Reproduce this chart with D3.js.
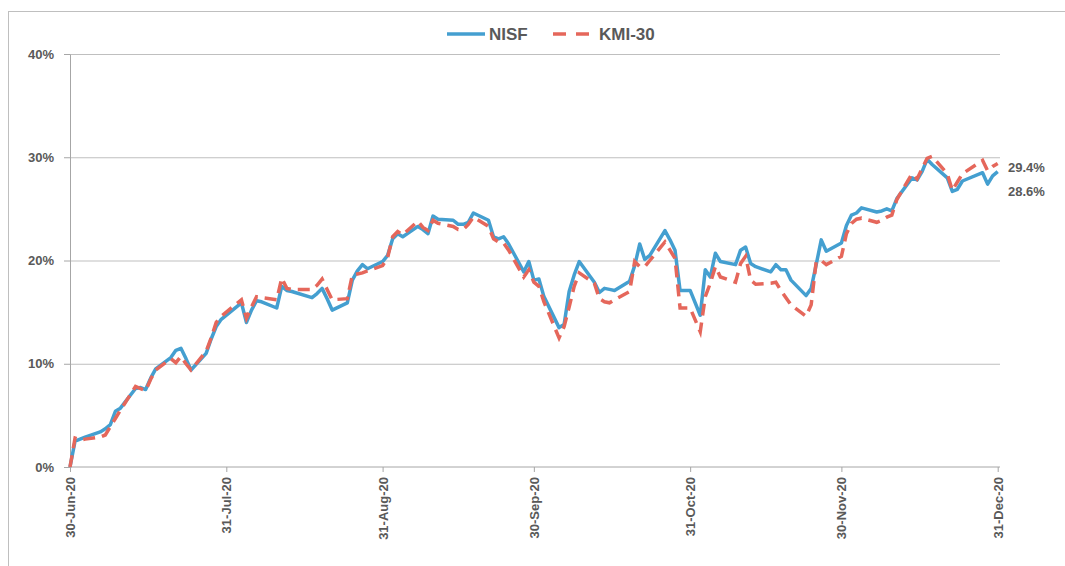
<!DOCTYPE html>
<html>
  <head>
    <meta charset="utf-8">
    <title>NISF vs KMI-30</title>
  </head>
  <style>
    body{
      margin: 0;
      background-color: #fff;
      font-family: "Liberation Sans", Arial, sans-serif;
    }
    .grid .tick line{
      stroke: #bfbfbf
    }
    .grid .domain{
      display: none
    }
    .axis text{
      fill: #595959;
      font-weight: bold;
      font-size: 13px;
      font-family: "Liberation Sans", Arial, sans-serif;
    }
    .axis line, .axis path{
      stroke: #a6a6a6
    }
  </style>
  <script src="https://cdn.jsdelivr.net/npm/d3@7"></script>
  <body>
    <script>
    // cumulative return since 30-Jun-20, in %
    const dates = [
      "2020-06-30","2020-07-01","2020-07-02","2020-07-03","2020-07-06","2020-07-07","2020-07-08","2020-07-09","2020-07-10",
      "2020-07-13","2020-07-14","2020-07-15","2020-07-16","2020-07-17","2020-07-20","2020-07-21","2020-07-22","2020-07-23","2020-07-24",
      "2020-07-27","2020-07-28","2020-07-29","2020-07-30","2020-08-03","2020-08-04","2020-08-05","2020-08-06","2020-08-07",
      "2020-08-10","2020-08-11","2020-08-12","2020-08-13","2020-08-17","2020-08-18","2020-08-19","2020-08-20","2020-08-21",
      "2020-08-24","2020-08-25","2020-08-26","2020-08-27","2020-08-28","2020-08-31","2020-09-01","2020-09-02","2020-09-03","2020-09-04",
      "2020-09-07","2020-09-08","2020-09-09","2020-09-10","2020-09-11","2020-09-14","2020-09-15","2020-09-16","2020-09-17","2020-09-18",
      "2020-09-21","2020-09-22","2020-09-23","2020-09-24","2020-09-25","2020-09-28","2020-09-29","2020-09-30","2020-10-01","2020-10-02",
      "2020-10-05","2020-10-06","2020-10-07","2020-10-08","2020-10-09","2020-10-12","2020-10-13","2020-10-14","2020-10-15","2020-10-16",
      "2020-10-19","2020-10-20","2020-10-21","2020-10-22","2020-10-23","2020-10-26","2020-10-27","2020-10-28","2020-10-29","2020-10-31",
      "2020-11-02","2020-11-03","2020-11-04","2020-11-05","2020-11-06","2020-11-09","2020-11-10","2020-11-11","2020-11-12","2020-11-13",
      "2020-11-16","2020-11-17","2020-11-18","2020-11-19","2020-11-20","2020-11-23","2020-11-24","2020-11-25","2020-11-26","2020-11-27",
      "2020-11-30","2020-12-01","2020-12-02","2020-12-03","2020-12-04","2020-12-07","2020-12-08","2020-12-09","2020-12-10","2020-12-11",
      "2020-12-14","2020-12-15","2020-12-16","2020-12-17","2020-12-18","2020-12-21","2020-12-22","2020-12-23","2020-12-24",
      "2020-12-28","2020-12-29","2020-12-30","2020-12-31"
    ]

    const nisf = [
      0.0, 2.5, 2.7, 2.9, 3.4, 3.7, 4.1, 5.4, 5.7,
      7.6, 7.7, 7.5, 8.6, 9.5, 10.6, 11.3, 11.5, 10.5, 9.4,
      11.0, 12.4, 13.6, 14.3, 15.9, 14.0, 15.2, 16.1, 16.0,
      15.4, 17.5, 17.1, 17.0, 16.4, 16.8, 17.3, 16.3, 15.2,
      15.9, 18.1, 19.0, 19.6, 19.2, 19.9, 20.5, 22.1, 22.6, 22.3,
      23.3, 23.0, 22.6, 24.3, 24.0, 23.9, 23.5, 23.5, 23.7, 24.6,
      23.9, 22.3, 22.1, 22.3, 21.6, 18.9, 19.9, 18.1, 18.2, 16.5,
      13.5, 13.8, 17.0, 18.6, 19.9, 17.9, 16.9, 17.3, 17.2, 17.1,
      18.0, 19.5, 21.6, 20.1, 20.5, 22.9, 22.0, 21.0, 17.1, 17.1,
      14.7, 19.1, 18.4, 20.7, 19.9, 19.6, 21.0, 21.3, 19.7, 19.4,
      18.9, 19.6, 19.1, 19.1, 18.1, 16.6, 17.3, 19.6, 22.0, 20.9,
      21.7, 23.4, 24.4, 24.6, 25.1, 24.7, 24.8, 25.0, 24.8, 26.0,
      28.0, 27.8, 28.6, 29.8, 29.3, 28.0, 26.7, 26.9, 27.7,
      28.5, 27.4, 28.2, 28.6
    ]

    const kmi30 = [
      0.0, 2.8, 2.6, 2.7, 2.9, 3.1, 3.9, 4.7, 5.5,
      7.8, 7.6, 7.4, 8.5, 9.4, 10.5, 10.1, 10.7, 10.0, 9.4,
      11.2, 12.5, 14.0, 14.6, 16.2, 14.4, 15.5, 16.5, 16.4,
      16.2, 18.3, 17.3, 17.2, 17.2, 17.6, 18.2, 17.2, 16.2,
      16.3, 18.6, 18.7, 18.8, 19.0, 19.5, 20.3, 22.3, 22.8, 22.5,
      23.8, 23.2, 22.9, 23.9, 23.6, 23.3, 23.0, 23.0, 23.5, 24.2,
      23.3, 22.1, 21.8, 21.7, 21.0, 18.4, 19.1, 17.9, 17.5, 16.0,
      12.5, 13.6, 15.5, 17.5, 18.8, 17.8, 16.3, 16.0, 15.9, 16.2,
      17.0, 19.9, 19.4, 19.4, 20.0, 21.8, 21.0, 20.2, 15.4, 15.4,
      13.1, 16.5, 17.8, 19.4, 18.4, 17.9, 19.7, 20.4, 18.1, 17.7,
      17.8, 17.9, 17.1, 16.4, 15.7, 14.6, 15.7, 19.9, 20.0, 19.6,
      20.4, 22.6, 23.6, 24.0, 24.1, 23.7, 23.9, 24.2, 24.4, 25.9,
      28.4, 27.9, 28.9, 29.9, 30.1, 28.4, 26.8, 27.6, 28.4,
      29.7, 28.7, 29.1, 29.4
    ]

    const yTicks = [0, 10, 20, 30, 40]
    const xTicks = ["2020-06-30","2020-07-31","2020-08-31","2020-09-30","2020-10-31","2020-11-30","2020-12-31"]
    const seriesNames = ["NISF", "KMI-30"]
    const colors = ["#449fd0", "#e5675b"]

    var width = 1065
    var height = 566
    var plot = { left: 70, right: 997.7, top: 54, bottom: 467 }

    var parse = d3.timeParse("%Y-%m-%d")
    var fmt = d3.timeFormat("%-d-%b-%y")

    var svg = d3.select("body")
                .append("svg")
                .attr("width", width)
                .attr("height", height)

    // outer chart frame
    svg.append("rect")
       .attr("x", 8.5).attr("y", 11.5)
       .attr("width", 1100).attr("height", 600)
       .attr("fill", "none")
       .attr("stroke", "#bfbfbf")

    var xScale = d3.scaleTime()
                   .domain([parse(xTicks[0]), parse(xTicks[xTicks.length - 1])])
                   .range([plot.left, plot.right])

    var yScale = d3.scaleLinear()
                   .domain([0, 40])
                   .range([plot.bottom, plot.top])

    // horizontal gridlines
    svg.append("g")
       .attr("class", "grid")
       .attr("transform", "translate(" + plot.left + ",0)")
       .call(d3.axisRight(yScale)
               .tickValues(yTicks.slice(1))
               .tickSize(1000 - plot.left)
               .tickFormat(""))

    // y axis
    svg.append("g")
       .attr("class", "axis")
       .attr("transform", "translate(" + plot.left + ",0)")
       .call(d3.axisLeft(yScale)
               .tickValues(yTicks)
               .tickSize(6)
               .tickSizeOuter(0)
               .tickPadding(10)
               .tickFormat(function(d){ return d + "%" }))

    // x axis
    var xAxisG = svg.append("g")
       .attr("class", "axis")
       .attr("transform", "translate(0," + plot.bottom + ")")
       .call(d3.axisBottom(xScale)
               .tickValues(xTicks.map(parse))
               .tickSize(5)
               .tickSizeOuter(0)
               .tickFormat(fmt))
    xAxisG.select(".domain").attr("d", "M" + plot.left + ",0H1000")
    xAxisG.selectAll("text")
          .attr("transform", "rotate(-90)")
          .attr("text-anchor", "end")
          .attr("x", -10)
          .attr("y", 0)
          .attr("dy", "0.35em")

    var line = d3.line()
                 .x(function(d){ return xScale(d[0]) })
                 .y(function(d){ return yScale(d[1]) })

    var series = [nisf, kmi30].map(function(vals){
      return dates.map(function(d, i){ return [parse(d), vals[i]] })
    })

    svg.append("path")
       .datum(series[0])
       .attr("d", line)
       .attr("fill", "none")
       .attr("stroke", colors[0])
       .attr("stroke-width", 3.5)
       .attr("stroke-linejoin", "round")

    svg.append("path")
       .datum(series[1])
       .attr("d", line)
       .attr("fill", "none")
       .attr("stroke", colors[1])
       .attr("stroke-width", 3.5)
       .attr("stroke-dasharray", "12,7")

    // end labels
    var lastVals = [nisf[nisf.length - 1], kmi30[kmi30.length - 1]]
    var labelY = [191, 167]
    svg.selectAll(".endlabel")
       .data(lastVals)
       .enter()
       .append("text")
       .attr("class", "endlabel")
       .attr("x", 1008)
       .attr("y", function(d, i){ return labelY[i] })
       .attr("dy", "0.35em")
       .attr("fill", "#595959")
       .attr("font-weight", "bold")
       .attr("font-size", "13px")
       .text(function(d){ return d.toFixed(1) + "%" })

    // legend
    var legend = svg.append("g")
    var legendX = [447, 553]
    legend.selectAll("line")
          .data(seriesNames)
          .enter()
          .append("line")
          .attr("x1", function(d, i){ return legendX[i] })
          .attr("x2", function(d, i){ return legendX[i] + 38 })
          .attr("y1", 34).attr("y2", 34)
          .attr("stroke", function(d, i){ return colors[i] })
          .attr("stroke-width", 3.5)
          .attr("stroke-dasharray", function(d, i){ return i == 1 ? "13,10" : null })
    legend.selectAll("text")
          .data(seriesNames)
          .enter()
          .append("text")
          .attr("x", function(d, i){ return legendX[i] + (i == 0 ? 42 : 46) })
          .attr("y", 34)
          .attr("dy", "0.36em")
          .attr("fill", "#595959")
          .attr("font-weight", "bold")
          .attr("font-size", "17px")
          .text(function(d){ return d })
    </script>
  </body>
</html>
